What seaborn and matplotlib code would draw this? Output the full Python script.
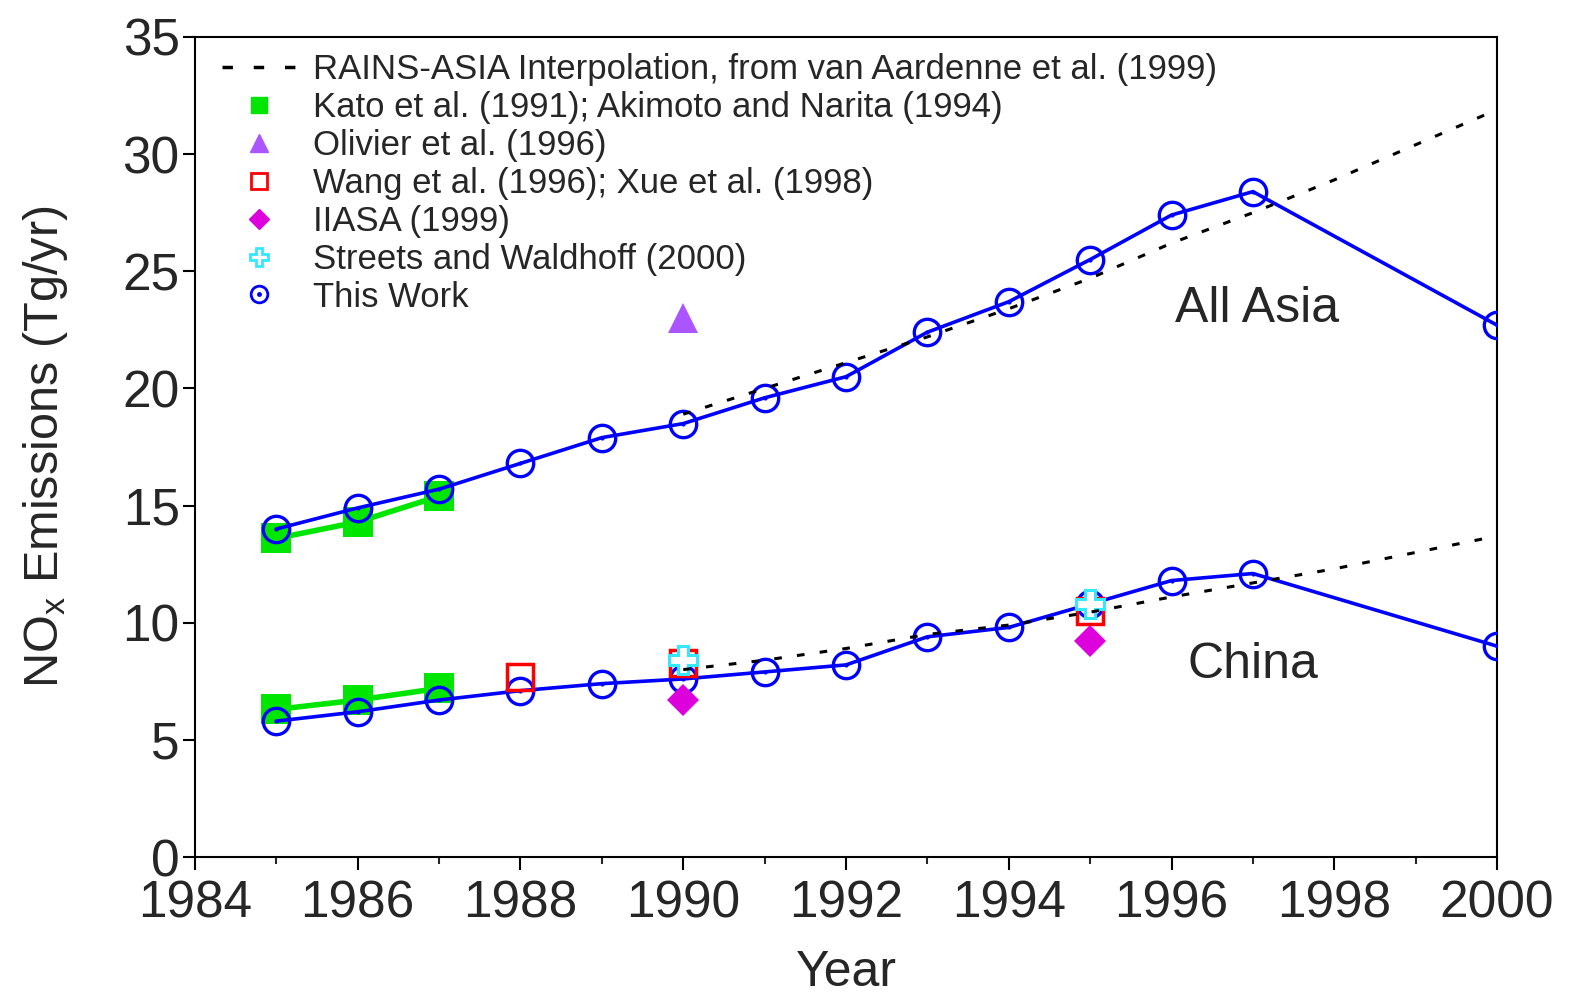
import numpy as np
import pandas as pd
import seaborn as sns
import matplotlib
matplotlib.use("Agg")
import matplotlib.pyplot as plt
from matplotlib.lines import Line2D
from matplotlib.legend_handler import HandlerTuple

# this work
years_work = [1985, 1986, 1987, 1988, 1989, 1990, 1991, 1992, 1993, 1994, 1995, 1996, 1997, 2000]
asia_work = [14.0, 14.9, 15.7, 16.8, 17.9, 18.5, 19.6, 20.5, 22.4, 23.7, 25.5, 27.4, 28.4, 22.7]
china_work = [5.8, 6.2, 6.7, 7.1, 7.4, 7.6, 7.9, 8.2, 9.4, 9.8, 10.8, 11.8, 12.1, 9.0]

# RAINS-ASIA interpolation
years_rains = [1990, 1991, 1992, 1993, 1994, 1995, 1996, 1997, 1998, 1999, 2000]
asia_rains = [18.9, 20.0, 21.1, 22.2, 23.4, 24.7, 26.2, 27.5, 28.9, 30.4, 31.9]
china_rains = [8.0, 8.4, 8.9, 9.5, 9.9, 10.45, 11.1, 11.7, 12.3, 13.0, 13.7]

# Kato et al. / Akimoto and Narita
years_kato = [1985, 1986, 1987]
asia_kato = [13.6, 14.3, 15.4]
china_kato = [6.3, 6.7, 7.2]

# Olivier et al.
years_olivier = [1990]
asia_olivier = [23.0]

# Wang et al. / Xue et al.
years_wang = [1988, 1990, 1995]
china_wang = [7.7, 8.3, 10.5]

# IIASA
years_iiasa = [1990, 1995]
china_iiasa = [6.7, 9.2]

# Streets and Waldhoff
years_streets = [1990, 1995]
china_streets = [8.4, 10.8]

legend_labels = [
    "RAINS-ASIA Interpolation, from van Aardenne et al. (1999)",
    "Kato et al. (1991); Akimoto and Narita (1994)",
    "Olivier et al. (1996)",
    "Wang et al. (1996); Xue et al. (1998)",
    "IIASA (1999)",
    "Streets and Waldhoff (2000)",
    "This Work",
]

sns.set_style("ticks")
plt.rcParams["font.family"] = ["Liberation Sans", "DejaVu Sans"]
plt.rcParams["mathtext.fontset"] = "custom"
plt.rcParams["mathtext.rm"] = "Liberation Sans"
plt.rcParams["mathtext.it"] = "Liberation Sans"

GREEN = "#00e600"
BLUE = "#0000ff"
RED = "#ff0000"
PURPLE = "#aa55ff"
MAGENTA = "#dd00dd"
CYAN = "#33e8ff"

fig = plt.figure(figsize=(15.76, 9.94), dpi=100)
ax = fig.add_axes([0.1237, 0.1378, 0.8262, 0.825])

# Kato (green, under this work)
for vals in (asia_kato, china_kato):
    sns.lineplot(x=years_kato, y=vals, ax=ax, color=GREEN, lw=4, marker="s",
                 markersize=21, markerfacecolor=GREEN, markeredgecolor=GREEN,
                 markeredgewidth=0, zorder=2)

# this work
for vals in (asia_work, china_work):
    sns.lineplot(x=years_work, y=vals, ax=ax, color=BLUE, lw=2.6, marker="o",
                 markersize=19, markerfacecolor="none", markeredgecolor=BLUE,
                 markeredgewidth=2.4, zorder=3)
    sns.lineplot(x=years_work, y=vals, ax=ax, color=BLUE, linestyle="none",
                 marker="o", markersize=3, markerfacecolor=BLUE,
                 markeredgecolor=BLUE, markeredgewidth=0, zorder=3)

# single estimates
sns.lineplot(x=years_wang, y=china_wang, ax=ax, linestyle="none", marker="s",
             markersize=19, markerfacecolor="none", markeredgecolor=RED,
             markeredgewidth=2.5, zorder=4)
sns.lineplot(x=years_iiasa, y=china_iiasa, ax=ax, linestyle="none", marker="D",
             markersize=16, markerfacecolor=MAGENTA, markeredgecolor=MAGENTA,
             markeredgewidth=0, zorder=4)
sns.lineplot(x=years_olivier, y=asia_olivier, ax=ax, linestyle="none", marker="^",
             markersize=22, markerfacecolor=PURPLE, markeredgecolor=PURPLE,
             markeredgewidth=0, zorder=4)
sns.lineplot(x=years_streets, y=china_streets, ax=ax, linestyle="none", marker="P",
             markersize=20, markerfacecolor="white", markeredgecolor=CYAN,
             markeredgewidth=2.2, zorder=5)

# RAINS-ASIA dashed curves on top
for vals in (asia_rains, china_rains):
    sns.lineplot(x=years_rains, y=vals, ax=ax, color="black", lw=2.2,
                 linestyle=(0, (2.5, 5)), zorder=6)

ax.text(1997.05, 23.4, "All Asia", fontsize=36, ha="center", va="center")
ax.text(1997.0, 8.2, "China", fontsize=36, ha="center", va="center")

ax.set_xlim(1984, 2000)
ax.set_ylim(0, 35)
ax.set_xticks(range(1984, 2001, 2))
ax.set_xticks(range(1985, 2000, 2), minor=True)
ax.set_yticks(range(0, 36, 5))
ax.tick_params(axis="both", which="major", labelsize=37, length=9, width=1.5,
               direction="out", pad=2, color="black")
ax.tick_params(axis="x", which="major", pad=7)
ax.tick_params(axis="x", which="minor", length=5, width=1.5, direction="out")
for s in ax.spines.values():
    s.set_visible(True)
    s.set_linewidth(1.5)
    s.set_color("black")

ax.set_xlabel("Year", fontsize=36, labelpad=16)
ax.set_ylabel(r"NO$_\mathregular{x}$ Emissions (Tg/yr)", fontsize=35, labelpad=38)

handles = [
    Line2D([], [], color="black", lw=2.5, linestyle=(0, (3, 6))),
    Line2D([], [], linestyle="none", marker="s", markersize=12, color=GREEN),
    Line2D([], [], linestyle="none", marker="^", markersize=13, color=PURPLE),
    Line2D([], [], linestyle="none", marker="s", markersize=12, markerfacecolor="none",
           markeredgecolor=RED, markeredgewidth=2),
    Line2D([], [], linestyle="none", marker="D", markersize=10, color=MAGENTA),
    Line2D([], [], linestyle="none", marker="P", markersize=13, markerfacecolor="white",
           markeredgecolor=CYAN, markeredgewidth=2),
    (Line2D([], [], linestyle="none", marker="o", markersize=12, markerfacecolor="none",
            markeredgecolor=BLUE, markeredgewidth=2),
     Line2D([], [], linestyle="none", marker="o", markersize=2.5, color=BLUE)),
]
ax.legend(handles, legend_labels, loc="upper left", bbox_to_anchor=(0.021, 0.980),
          frameon=False, fontsize=25, handlelength=2.1, handletextpad=0.5,
          labelspacing=0.14, borderpad=0, borderaxespad=0,
          handler_map={tuple: HandlerTuple(ndivide=1)})

fig.savefig("out.png", dpi=100)
